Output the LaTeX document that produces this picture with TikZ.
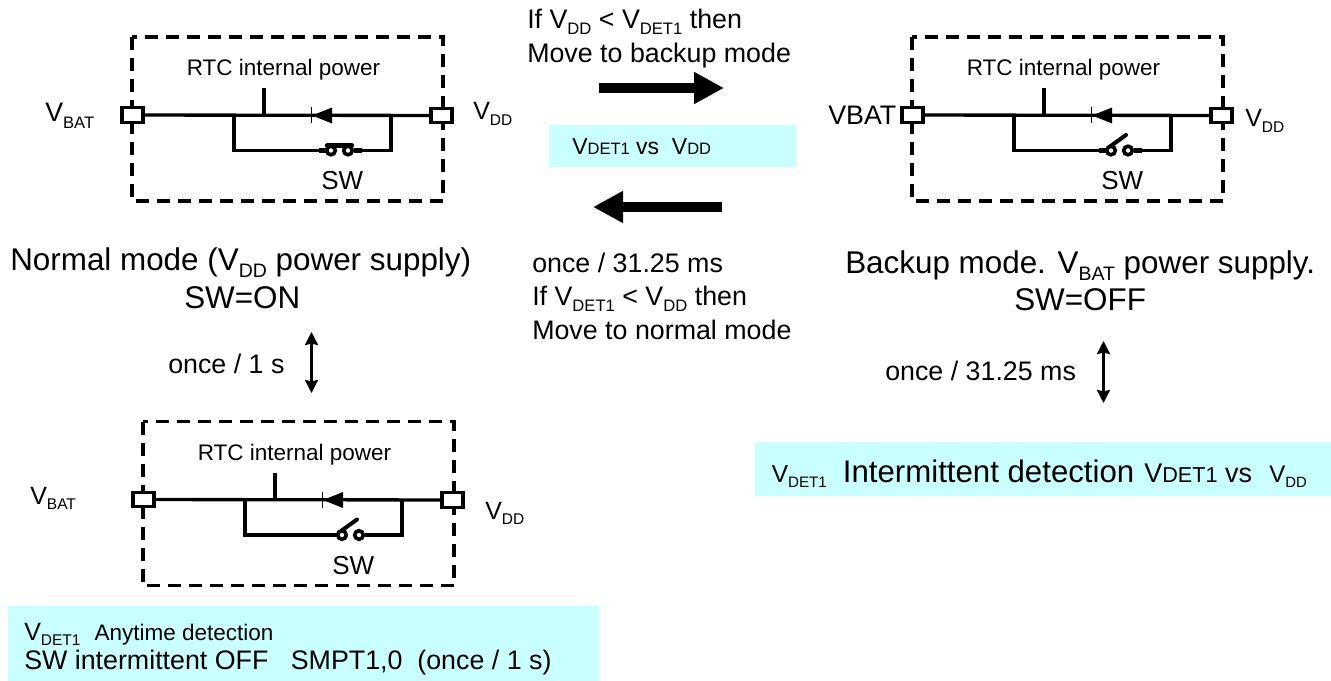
\documentclass[tikz,border=0pt]{standalone}
\usepackage{fontspec}
\setmainfont{Liberation Sans}
\usetikzlibrary{arrows.meta}
\definecolor{paleband}{HTML}{C9FFFF}
\newcommand\fs[1]{\fontsize{\dimexpr#1pt*3/4\relax}{\dimexpr#1pt*9/10\relax}\selectfont}
\newcommand\lo[1]{\raisebox{-.23em}{\scalebox{.62}{#1}}}
\tikzset{
  x=.75pt,y=-.75pt,
  dashbox/.style={line width=2.3pt,dash pattern=on 9.75pt off 6pt},
  wire/.style={line width=2.5pt},
  thinwire/.style={line width=2.3pt},
  term/.style={draw,line width=2.3pt,fill=white,minimum width=21*.75pt,minimum height=14.5*.75pt,inner sep=0pt},
  band/.style={fill=paleband,draw=none},
  lbl/.style={anchor=base west,inner sep=0pt,align=left},
  big/.style={font=\fs{26.8}},
  mid/.style={font=\fs{25}},
  huge/.style={font=\fs{31.4}},
  small/.style={font=\fs{22.5}},
  stub/.style={line width=3.6pt},
  bigarrow/.style={line width=7.5pt,-{Triangle[length=22.5pt,width=22.5pt]}},
  dblarrow/.style={line width=1.8pt,{Stealth[length=9.75pt,width=9.75pt,inset=1pt]}-{Stealth[length=9.75pt,width=9.75pt,inset=1pt]}},
}
% #1 prefix, #2 dx, #3 dy, #4 switch blade
\newcommand\circuit[4]{%
 \begin{scope}[shift={(#2,#3)}]
  \draw[dashbox] (132,37) rectangle (443,201);
  \node[term] (#1L) at (132.5,115) {};
  \node[term] (#1R) at (441.5,115.5) {};
  \coordinate (#1JL) at (234,115);
  \coordinate (#1JR) at (391,115);
  \coordinate (#1BL) at (234,150.5);
  \coordinate (#1BR) at (391,150.5);
  \coordinate (#1SL) at (319,150.5);
  \coordinate (#1SR) at (362,150.5);
  \coordinate (#1T) at (264,115);
  \coordinate (#1Tt) at (264,88);
  \draw[wire] (#1L) -- (#1R);
  \draw[thinwire] (#1T) -- (#1Tt);
  \draw[thinwire] (#1JL) -- (#1BL) -- (#1SL);
  \draw[thinwire] (#1JR) -- (#1BR) -- (#1SR);
  \fill (312,115.5) -- (332,107.5) -- (332,123.5) -- cycle;
  \draw[line width=1.1pt] (311.5,107.5) -- (311.5,123.5);
  \draw[stub] (#1SL) -- (327,150.5);
  \draw[stub] (354,150.5) -- (#1SR);
  \draw[line width=2.7pt,fill=white] (331,150.5) circle (4.3);
  \draw[line width=2.7pt,fill=white] (348,150.5) circle (4.3);
  #4
  \node[lbl,small] (#1rtc) at (186.5,76) {RTC internal power};
  \node[lbl,font=\fs{26}] (#1sw) at (321,190) {SW};
 \end{scope}}
\begin{document}
\begin{tikzpicture}
\useasboundingbox (0,0) rectangle (1331,681);
% bands
\fill[band] (549,125) rectangle (796,167);
\fill[band] (755,442) rectangle (1331,496);
\fill[band] (8,606) rectangle (599,681);
% circuits
\circuit{a}{0}{0}{\draw[line width=3.2pt,line cap=round] (327,145.5) -- (352,145.5);}
\circuit{b}{780}{0}{\draw[line width=3pt,line cap=round] (330,146.5) -- (346,135);}
\circuit{c}{11}{384.5}{\draw[line width=3pt,line cap=round] (330,146.5) -- (346,135);}
% terminal labels
\node[lbl,big] (va) at (45,122) {V\lo{BAT}};
\node[lbl,mid] (vb) at (473,119.5) {V\lo{DD}};
\node[lbl,big] (vc) at (828,124.5) {VBAT};
\node[lbl,mid] (vd) at (1245,127) {V\lo{DD}};
\node[lbl,mid] (ve) at (30,504) {V\lo{BAT}};
\node[lbl,mid] (vf) at (485,519) {V\lo{DD}};
% centre
\node[lbl,big] (t1) at (527,28.5) {If V\lo{DD} < V\lo{DET1} then};
\node[lbl,big] (t2) at (527,63) {Move to backup mode};
\node[lbl,font=\fs{23}] (t3) at (572,155) {V{\fs{16.5}DET1} vs\ \ V{\fs{16.5}DD}};
\node[lbl,big] (t4) at (532,272.5) {once / 31.25 ms};
\node[lbl,big] (t5) at (532,305.5) {If V\lo{DET1} < V\lo{DD} then};
\node[lbl,big] (t6) at (532,339) {Move to normal mode};
\coordinate (r1) at (599,88);\coordinate (r2) at (724,88);
\coordinate (l1) at (722,207);\coordinate (l2) at (593,207);
\draw[bigarrow] (r1) -- (r2);
\draw[bigarrow] (l1) -- (l2);
% mode captions
\node[lbl,huge] (n1) at (10,270) {Normal mode (V\lo{DD} power supply)};
\node[lbl,huge] (n2) at (184,308) {SW=ON};
\node[lbl,huge] (n3) at (845,273) {Backup mode. V\lo{BAT} power supply.};
\node[lbl,huge] (n4) at (1014,310) {SW=OFF};
\node[lbl,big] (o1) at (168,373) {once / 1 s};
\node[lbl,big] (o2) at (885,380) {once / 31.25 ms};
\coordinate (d1) at (311.5,332);\coordinate (d2) at (311.5,393);
\coordinate (d3) at (1103.5,341);\coordinate (d4) at (1103.5,403);
\draw[dblarrow] (d1) -- (d2);
\draw[dblarrow] (d3) -- (d4);
% bands text
\node[lbl,font=\fs{24.5}] (b1) at (771.5,482) {V\lo{DET1}\hspace{12pt}{\fs{31.2}Intermittent detection}\hspace{7.5pt}{\fs{27}V{\fs{21.6}DET1} vs}\hspace{13pt}{\fs{24}V\lo{DD}}};
\node[lbl,font=\fs{25}] (b2) at (24,640) {V\lo{DET1}\hspace{10.5pt}{\fs{22.5}Anytime detection}};
\node[lbl,font=\fs{26.8}] (b3) at (24,669) {SW intermittent OFF\ \ \ SMPT1,0\ \ (once / 1 s)};
\end{tikzpicture}
\end{document}
